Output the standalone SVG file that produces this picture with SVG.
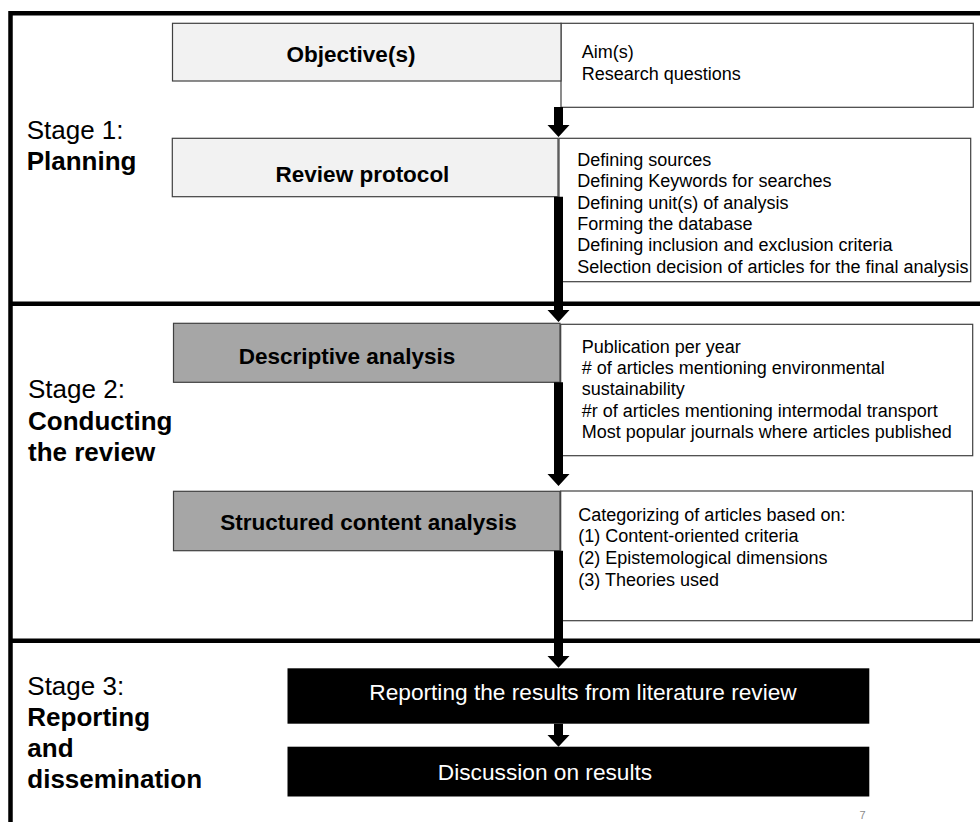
<svg xmlns="http://www.w3.org/2000/svg" width="980" height="822" viewBox="0 0 980 822">
<style>
text{font-family:"Liberation Sans",Arial,Helvetica,sans-serif;fill:#000}
.stage{font-size:26px}
.b{font-weight:bold}
.title{font-size:22.5px;font-weight:bold;text-anchor:middle}
.wt{font-size:22.7px;text-anchor:middle;fill:#fff}
.det{font-size:18px}
.light{fill:#f2f2f2;stroke:#404040;stroke-width:1.2}
.mid{fill:#a6a6a6;stroke:#404040;stroke-width:1.2}
.info{fill:#fff;stroke:#404040;stroke-width:1.2}
.dark{fill:#000}
.frame{fill:none;stroke:#000;stroke-width:4.5}
.arrow{fill:#000}
.pg{font-size:11px;fill:#8c8c8c;text-anchor:middle}
</style>
<rect width="980" height="822" fill="#fff"/>
<g id="frame">
<path class="frame" d="M10.5 822 V13.3 H980"/>
<line class="frame" x1="10.5" y1="303.8" x2="980" y2="303.8"/>
<line class="frame" x1="10.5" y1="640.8" x2="980" y2="640.8"/>
</g>
<g id="stage1-label">
<text class="stage" x="26.7" y="139.3">Stage 1:</text>
<text class="stage b" x="26.7" y="170">Planning</text>
</g>
<g id="stage2-label">
<text class="stage" x="28" y="398.3">Stage 2:</text>
<text class="stage b" x="28" y="429.5">Conducting</text>
<text class="stage b" x="28" y="460.5">the review</text>
</g>
<g id="stage3-label">
<text class="stage" x="27.3" y="695">Stage 3:</text>
<text class="stage b" x="27.3" y="726">Reporting</text>
<text class="stage b" x="27.3" y="757">and</text>
<text class="stage b" x="27.3" y="788">dissemination</text>
</g>
<g id="aims">
<rect class="info" x="561" y="23.3" width="412.3" height="84"/>
<text class="det" x="581.7" y="58.3">Aim(s)</text>
<text class="det" x="581.7" y="79.5">Research questions</text>
</g>
<g id="objectives">
<rect class="light" x="172.5" y="23.3" width="388.5" height="57.7"/>
<text class="title" x="351" y="62">Objective(s)</text>
</g>
<g id="protocol-details">
<rect class="info" x="559" y="138.3" width="411.7" height="143.4"/>
<text class="det" x="577.3" y="165.7">Defining sources</text>
<text class="det" x="577.3" y="187.1">Defining Keywords for searches</text>
<text class="det" x="577.3" y="208.5">Defining unit(s) of analysis</text>
<text class="det" x="577.3" y="229.9">Forming the database</text>
<text class="det" x="577.3" y="251.3">Defining inclusion and exclusion criteria</text>
<text class="det" x="577.3" y="272.7">Selection decision of articles for the final analysis</text>
</g>
<g id="review-protocol">
<rect class="light" x="172.3" y="138.3" width="385.7" height="58.4"/>
<text class="title" x="362.5" y="182">Review protocol</text>
</g>
<g id="descriptive-details">
<rect class="info" x="560.7" y="324.3" width="412" height="131.4"/>
<text class="det" x="581.7" y="352.7">Publication per year</text>
<text class="det" x="581.7" y="374"># of articles mentioning environmental</text>
<text class="det" x="581.7" y="395.3">sustainability</text>
<text class="det" x="581.7" y="416.7">#r of articles mentioning intermodal transport</text>
<text class="det" x="581.7" y="438">Most popular journals where articles published</text>
</g>
<g id="descriptive-analysis">
<rect class="mid" x="173.5" y="323.3" width="386.5" height="59"/>
<text class="title" x="347" y="364">Descriptive analysis</text>
</g>
<g id="content-details">
<rect class="info" x="560.7" y="491" width="411.6" height="129.7"/>
<text class="det" x="578.3" y="520.7">Categorizing of articles based on:</text>
<text class="det" x="578.3" y="542.3">(1) Content-oriented criteria</text>
<text class="det" x="578.3" y="564">(2) Epistemological dimensions</text>
<text class="det" x="578.3" y="585.7">(3) Theories used</text>
</g>
<g id="content-analysis">
<rect class="mid" x="173.5" y="491.3" width="386.5" height="59.4"/>
<text class="title" x="368.5" y="529.5">Structured content analysis</text>
</g>
<g id="reporting">
<rect class="dark" x="287.5" y="668.3" width="581.8" height="55.4"/>
<text class="wt" x="583" y="700">Reporting the results from literature review</text>
</g>
<g id="discussion">
<rect class="dark" x="287.5" y="746.7" width="581.8" height="49.8"/>
<text class="wt" x="545" y="779.5">Discussion on results</text>
</g>
<g id="connectors">
<polygon class="arrow" points="554,107 563,107 563,125 569.5,125 558.5,137 547.5,125 554,125"/>
<polygon class="arrow" points="554,196.7 563,196.7 563,310 569.5,310 558.5,322 547.5,310 554,310"/>
<polygon class="arrow" points="554,382.3 563,382.3 563,474 569.5,474 558.5,486 547.5,474 554,474"/>
<polygon class="arrow" points="554,550.7 563,550.7 563,656 569.5,656 558.5,667.8 547.5,656 554,656"/>
<polygon class="arrow" points="554,723.7 563,723.7 563,735 569.5,735 558.5,746.7 547.5,735 554,735"/>
</g>
<text class="pg" x="862.5" y="819">7</text>
</svg>
